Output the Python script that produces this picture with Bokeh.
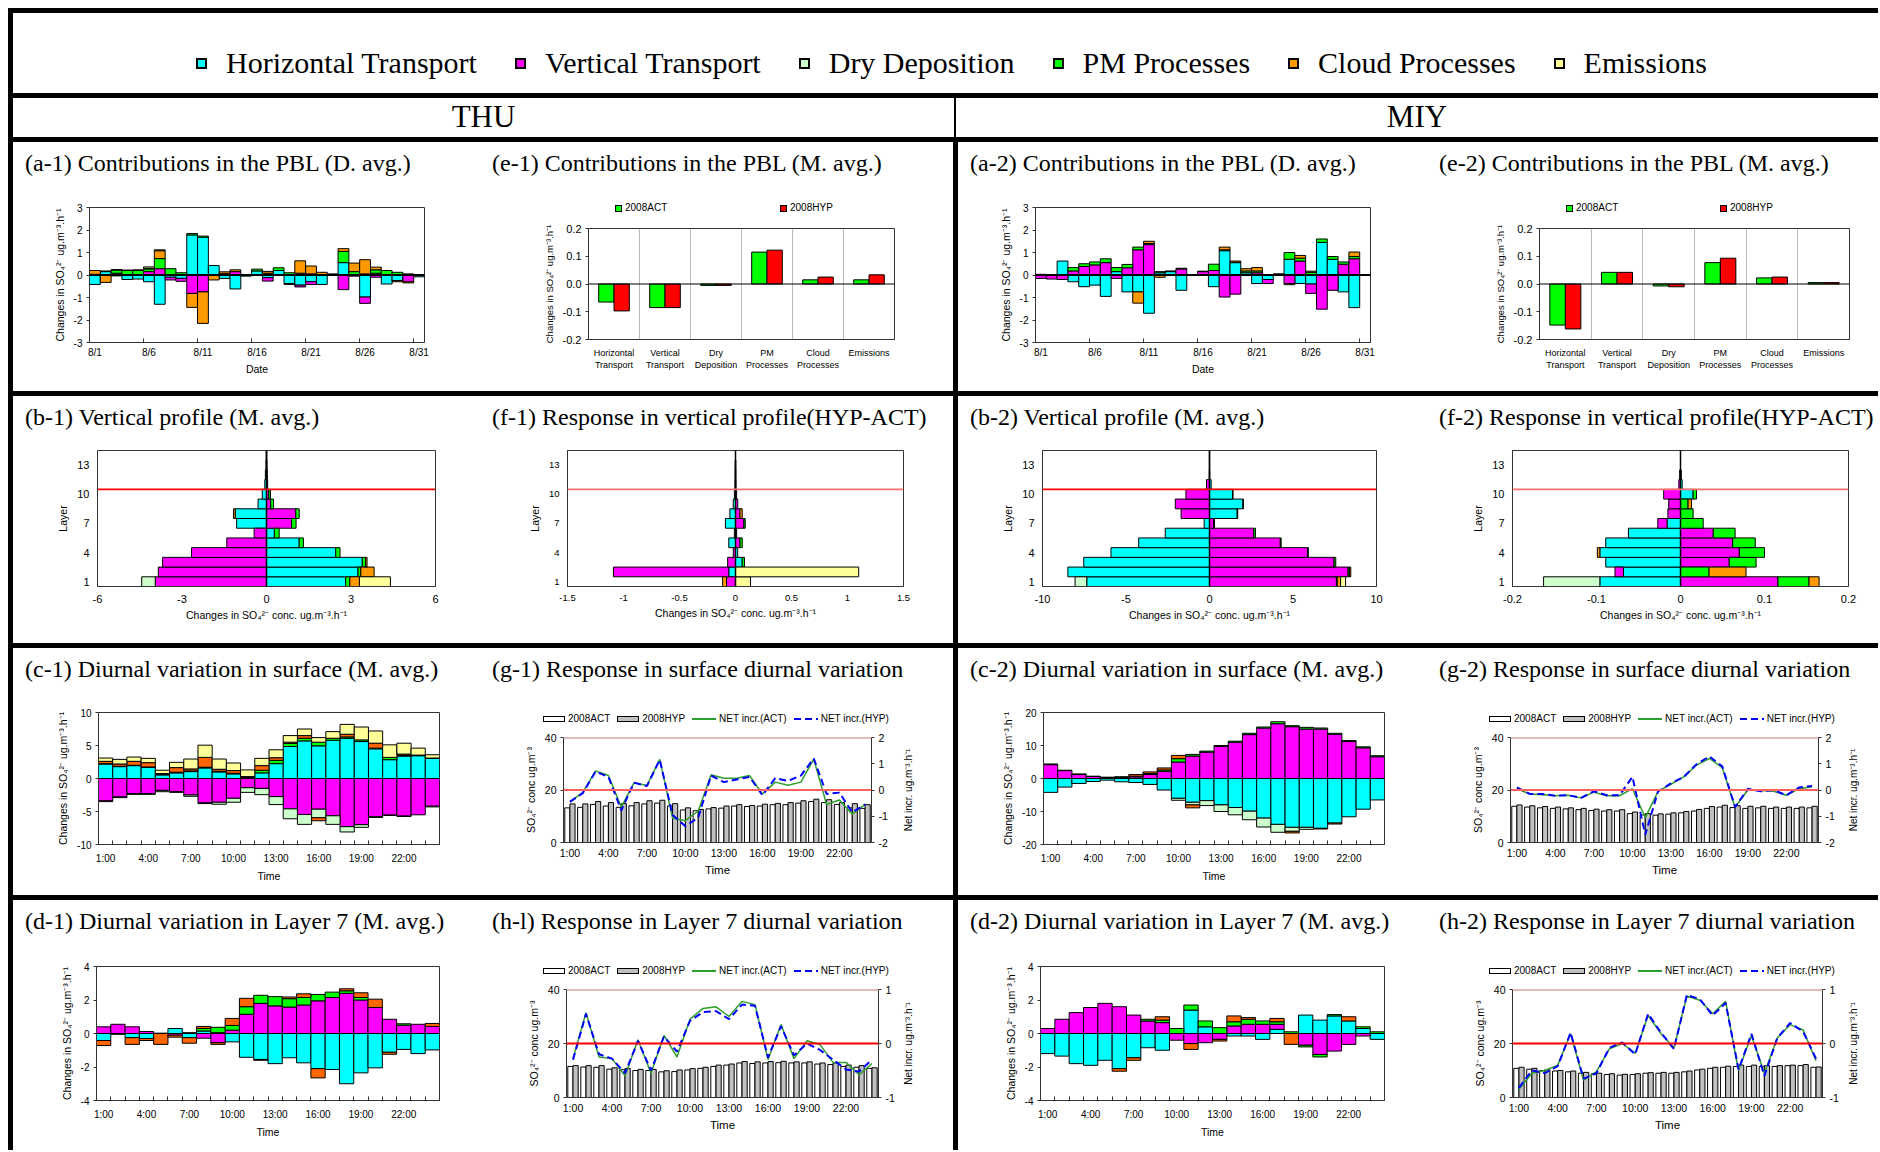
from bokeh.plotting import figure
from bokeh.models import Range1d, LinearAxis, FixedTicker, Span, Div
from bokeh.layouts import row, column
from bokeh.embed import file_html
from bokeh.resources import INLINE

# ------------------------------------------------------------------ data
COMPONENTS = ["Horizontal Transport", "Vertical Transport", "Dry Deposition",
              "PM Processes", "Cloud Processes", "Emissions"]
CATS = ["Horizontal\nTransport", "Vertical\nTransport", "Dry\nDeposition",
        "PM\nProcesses", "Cloud\nProcesses", "Emissions"]
SCEN = ["2008ACT", "2008HYP"]
NET_NAMES = ["NET incr.(ACT)", "NET incr.(HYP)"]
DATES = ["8/1", "8/2", "8/3", "8/4", "8/5", "8/6", "8/7", "8/8", "8/9", "8/10",
         "8/11", "8/12", "8/13", "8/14", "8/15", "8/16", "8/17", "8/18", "8/19", "8/20",
         "8/21", "8/22", "8/23", "8/24", "8/25", "8/26", "8/27", "8/28", "8/29", "8/30", "8/31"]
HOURS = ["1:00", "2:00", "3:00", "4:00", "5:00", "6:00", "7:00", "8:00", "9:00", "10:00",
         "11:00", "12:00", "13:00", "14:00", "15:00", "16:00", "17:00", "18:00", "19:00",
         "20:00", "21:00", "22:00", "23:00", "24:00"]
LAYERS = [1, 2, 3, 4, 5, 6, 7, 8, 9, 10, 11, 12, 13, 14]

# (a-1) THU daily PBL contributions
A1_HT = [-0.42, 0.15, 0.08, -0.20, -0.18, -0.30, -1.30, -0.10, -0.15, 1.78, 1.68, 0.42, -0.15, -0.62, -0.05, 0.18,
         -0.12, 0.20, -0.38, -0.45, -0.30, -0.42, 0.00, 0.55, 0.00, -0.98, 0.08, -0.40, -0.25, 0.00, -0.08]
A1_VT = [0.00, 0.00, -0.04, 0.00, 0.00, 0.15, 0.28, -0.12, -0.13, -0.82, -0.75, 0.00, 0.06, 0.15, 0.00, -0.02,
         -0.15, -0.02, 0.00, -0.08, -0.12, 0.00, 0.00, -0.65, -0.05, -0.28, -0.10, 0.00, 0.00, -0.30, 0.00]
A1_DD = [0.00, 0.00, 0.00, 0.00, 0.00, 0.00, 0.00, 0.00, 0.00, 0.00, 0.00, 0.00, 0.00, 0.00, 0.00, 0.00,
         0.00, 0.00, 0.00, 0.00, 0.00, 0.00, 0.00, 0.00, 0.00, 0.00, 0.00, 0.00, 0.00, 0.00, 0.00]
A1_PM = [0.03, 0.03, 0.14, 0.20, 0.20, 0.12, 0.45, 0.28, 0.10, 0.06, 0.05, 0.00, 0.00, 0.00, 0.02, 0.08,
         0.08, 0.12, 0.10, 0.08, 0.05, 0.00, -0.02, 0.50, 0.15, 0.05, 0.15, 0.20, 0.12, 0.05, 0.00]
A1_CP = [0.17, -0.33, 0.02, 0.02, 0.03, 0.03, 0.35, 0.00, 0.00, -0.62, -1.40, -0.22, 0.08, 0.08, 0.00, 0.00,
         0.08, 0.00, -0.04, 0.55, 0.35, 0.12, 0.05, 0.12, 0.38, 0.63, 0.12, 0.00, -0.05, -0.05, 0.00]
A1_EM = [0.00, 0.00, 0.00, 0.00, 0.00, 0.06, 0.04, 0.00, 0.00, 0.00, 0.00, 0.00, 0.00, 0.00, 0.00, 0.00,
         0.00, 0.00, 0.00, 0.00, 0.00, 0.00, 0.00, 0.00, 0.00, 0.00, 0.00, 0.00, 0.00, 0.00, 0.00]

# (a-2) MIY daily PBL contributions
A2_HT = [0.00, 0.00, 0.62, -0.30, -0.52, -0.45, -0.95, 0.15, -0.75, -0.75, -1.70, 0.10, 0.15, -0.68, 0.00, 0.00,
         -0.52, 1.08, 0.55, 0.10, -0.38, -0.20, 0.03, 0.70, -0.38, -0.40, 1.45, 0.70, -0.75, -1.45, 0.02]
A2_VT = [-0.15, -0.18, -0.20, 0.18, 0.38, 0.45, 0.55, -0.15, 0.32, 1.12, 1.35, 0.00, 0.00, 0.27, 0.00, 0.15,
         0.20, -0.98, -0.85, 0.00, 0.10, -0.18, 0.00, -0.38, 0.62, -0.42, -1.52, -0.68, 0.48, 0.72, 0.00]
A2_DD = [0.00, 0.00, 0.00, 0.00, 0.00, 0.00, 0.00, 0.00, 0.00, 0.00, 0.00, 0.00, 0.00, 0.00, 0.00, 0.00,
         0.00, 0.00, 0.00, 0.00, 0.00, 0.00, 0.00, 0.00, 0.00, 0.00, 0.00, 0.00, 0.00, 0.00, 0.00]
A2_PM = [0.03, 0.00, 0.00, 0.15, 0.12, 0.13, 0.17, 0.18, 0.15, 0.12, 0.05, 0.05, 0.03, 0.03, 0.02, 0.02,
         0.28, 0.04, 0.02, 0.08, 0.08, 0.02, 0.02, 0.30, 0.13, 0.12, 0.15, 0.12, 0.10, 0.10, 0.00]
A2_CP = [0.00, 0.00, 0.00, 0.00, 0.00, 0.00, 0.00, 0.00, 0.00, -0.50, 0.10, -0.10, 0.00, 0.00, 0.00, 0.00,
         0.00, 0.12, 0.05, 0.10, 0.15, 0.00, 0.00, -0.05, 0.12, 0.05, 0.00, 0.00, 0.00, 0.20, 0.00]
A2_EM = [0.00, 0.00, 0.00, 0.00, 0.00, 0.00, 0.00, 0.00, 0.00, 0.00, 0.00, 0.00, 0.00, 0.00, 0.00, 0.00,
         0.00, 0.00, 0.00, 0.00, 0.00, 0.00, 0.00, 0.00, 0.00, 0.00, 0.00, 0.00, 0.00, 0.00, 0.00]

# (e-1), (e-2) monthly PBL contributions
E1_ACT = [-0.065, -0.085, -0.005, 0.115, 0.015, 0.015]
E1_HYP = [-0.097, -0.085, -0.005, 0.122, 0.025, 0.033]
E2_ACT = [-0.148, 0.042, -0.007, 0.077, 0.022, 0.005]
E2_HYP = [-0.162, 0.042, -0.010, 0.093, 0.025, 0.005]

# (b-1) THU vertical profile
B1_HT = [2.81, 3.25, 3.40, 2.46, 1.16, 0.28, -1.06, -1.11, -0.30, -0.15, -0.06, -0.04, -0.02, -0.01]
B1_VT = [-3.95, -3.84, -3.69, -2.66, -1.41, -0.44, 0.89, 1.04, 0.15, 0.08, 0.04, 0.03, 0.02, 0.01]
B1_DD = [-0.48, 0.00, 0.00, 0.00, 0.00, 0.00, 0.00, 0.00, 0.00, 0.00, 0.00, 0.00, 0.00, 0.00]
B1_PM = [0.15, 0.10, 0.12, 0.15, 0.15, 0.17, 0.16, 0.12, 0.10, 0.06, 0.00, 0.00, 0.00, 0.00]
B1_CP = [0.34, 0.47, 0.05, 0.00, 0.00, 0.00, 0.00, -0.06, 0.00, 0.00, 0.00, 0.00, 0.00, 0.00]
B1_EM = [1.10, 0.00, 0.00, 0.00, 0.00, 0.00, 0.00, 0.00, 0.00, 0.00, 0.00, 0.00, 0.00, 0.00]

# (f-1) THU vertical profile response
F1_HT = [0.00, -0.06, 0.06, 0.02, -0.06, -0.01, -0.09, -0.05, -0.02, -0.01, -0.005, -0.004, -0.003, 0.00]
F1_VT = [-0.08, -1.03, -0.07, -0.02, 0.04, 0.01, 0.075, 0.04, 0.02, 0.01, 0.005, 0.004, 0.003, 0.00]
F1_DD = [0.00, 0.00, 0.00, 0.00, 0.00, 0.00, 0.00, 0.00, 0.00, 0.00, 0.00, 0.00, 0.00, 0.00]
F1_PM = [0.00, 0.00, 0.02, 0.00, 0.02, 0.00, 0.012, 0.00, 0.00, 0.00, 0.00, 0.00, 0.00, 0.00]
F1_CP = [-0.035, 0.00, 0.00, 0.00, 0.00, 0.00, 0.00, 0.02, 0.00, 0.00, 0.00, 0.00, 0.00, 0.00]
F1_EM = [0.134, 1.10, 0.00, 0.00, 0.00, 0.00, 0.00, 0.00, 0.00, 0.00, 0.00, 0.00, 0.00, 0.00]

# (b-2) MIY vertical profile
B2_HT = [-7.35, -8.48, -7.53, -5.90, -4.24, -2.65, -0.32, 1.66, 2.00, 1.38, 0.10, 0.02, 0.01, 0.01]
B2_VT = [7.60, 8.30, 7.46, 5.87, 4.24, 2.65, 0.25, -1.70, -2.05, -1.41, -0.18, -0.02, -0.01, -0.01]
B2_DD = [-0.70, 0.00, 0.00, 0.00, 0.00, 0.00, 0.00, 0.00, 0.00, 0.00, 0.00, 0.00, 0.00, 0.00]
B2_PM = [0.05, 0.08, 0.10, 0.05, 0.05, 0.10, 0.05, 0.03, 0.03, 0.03, 0.00, 0.00, 0.00, 0.00]
B2_CP = [0.20, 0.08, 0.00, 0.00, 0.00, 0.00, 0.00, 0.00, 0.00, 0.00, 0.00, 0.00, 0.00, 0.00]
B2_EM = [0.30, 0.00, 0.00, 0.00, 0.00, 0.00, 0.00, 0.00, 0.00, 0.00, 0.00, 0.00, 0.00, 0.00]

# (f-2) MIY vertical profile response
F2_HT = [-0.096, -0.068, -0.089, -0.096, -0.089, -0.062, -0.016, 0.00, 0.00, 0.015, 0.002, 0.001, 0.00, 0.00]
F2_VT = [0.116, -0.010, 0.058, 0.070, 0.062, 0.039, -0.011, -0.015, -0.014, -0.020, -0.002, -0.001, 0.00, 0.00]
F2_DD = [-0.067, 0.00, 0.00, 0.00, 0.00, 0.00, 0.00, 0.00, 0.00, 0.00, 0.00, 0.00, 0.00, 0.00]
F2_PM = [0.037, 0.034, 0.032, 0.030, 0.027, 0.026, 0.027, 0.015, 0.009, 0.004, 0.00, 0.00, 0.00, 0.00]
F2_CP = [0.012, 0.044, 0.00, -0.003, 0.00, 0.00, 0.00, 0.00, 0.004, 0.00, 0.00, 0.00, 0.00, 0.00]
F2_EM = [0.00, 0.00, 0.00, 0.00, 0.00, 0.00, 0.00, 0.00, 0.00, 0.00, 0.00, 0.00, 0.00, 0.00]

# (c-1) THU surface diurnal
C1_HT = [2.20, 1.80, 1.95, 1.70, 0.55, 0.85, 1.05, 1.60, 1.00, 0.70, 0.15, 0.85,
         2.25, 4.85, 5.70, 4.95, 5.80, 6.10, 5.60, 4.50, 2.85, 3.40, 3.45, 3.05]
C1_VT = [-3.40, -2.80, -2.30, -2.30, -1.80, -2.00, -2.50, -3.70, -3.60, -3.00, -1.40, -1.50,
         -2.75, -4.60, -5.45, -4.65, -5.65, -7.30, -7.00, -5.80, -5.55, -5.70, -5.50, -4.20]
C1_DD = [-0.10, -0.10, -0.10, -0.10, -0.20, -0.10, -0.20, -0.10, -0.30, -0.60, -0.70, -0.95,
         -1.20, -1.50, -1.50, -1.30, -1.30, -0.80, -0.40, -0.10, -0.05, -0.05, 0.00, -0.10]
C1_PM = [0.05, 0.05, 0.05, 0.05, 0.05, 0.10, 0.10, 0.10, 0.10, 0.10, 0.15, 0.40,
         0.50, 0.45, 0.40, 0.55, 0.30, 0.20, 0.25, 0.10, 0.35, 0.10, 0.10, 0.05]
C1_CP = [0.35, 0.35, 0.60, 0.65, 0.15, 0.70, 0.30, 1.50, 0.30, 0.40, 0.00, 0.70,
         0.40, 0.20, 0.40, -0.45, 0.00, 0.40, 0.00, 0.75, 0.00, 0.20, 0.00, 0.00]
C1_EM = [0.50, 0.70, 0.65, 0.65, 0.50, 0.80, 1.50, 1.85, 1.55, 1.15, 1.00, 1.10,
         1.20, 1.00, 1.00, 0.70, 1.00, 1.50, 1.95, 1.85, 1.90, 1.65, 1.05, 0.50]

# (c-2) MIY surface diurnal
C2_HT = [-4.2, -2.6, -1.5, -0.9, -0.5, -1.0, -1.2, -1.8, -3.5, -6.0, -7.2, -6.7,
         -8.0, -8.8, -9.9, -12.0, -13.9, -14.8, -14.8, -15.1, -13.5, -11.6, -9.3, -6.5]
C2_VT = [4.2, 2.4, 1.2, 0.6, 0.3, 0.4, 0.5, 1.2, 2.2, 5.0, 6.8, 8.0,
         9.7, 11.0, 13.3, 15.3, 16.6, 15.7, 15.0, 15.0, 13.4, 11.2, 9.3, 6.6]
C2_DD = [0.0, 0.0, 0.0, 0.0, 0.0, 0.0, 0.0, 0.0, 0.0, -0.6, -0.8, -1.5,
         -2.0, -2.2, -2.6, -2.7, -2.4, -1.2, -0.6, 0.0, 0.0, 0.0, 0.0, 0.0]
C2_PM = [0.2, 0.1, 0.2, 0.1, 0.1, 0.1, 0.2, 0.3, 0.4, 1.0, 0.5, 0.3,
         0.3, 0.3, 0.4, 0.3, 0.6, 0.3, 0.5, 0.3, 0.3, 0.3, 0.3, 0.3]
C2_CP = [0.0, 0.0, 0.0, 0.0, 0.0, 0.0, 0.5, 0.5, 0.6, 1.0, -0.9, 0.0,
         0.0, 0.0, 0.0, 0.0, 0.0, -0.5, 0.0, -0.2, -0.3, 0.0, 0.0, 0.0]
C2_EM = [0.0, 0.0, 0.0, 0.0, 0.0, 0.0, 0.0, 0.0, 0.0, 0.0, 0.0, 0.0,
         0.0, 0.0, 0.0, 0.0, 0.0, 0.0, 0.0, 0.0, 0.0, 0.0, 0.0, 0.0]

# (d-1) THU layer-7 diurnal
D1_HT = [-0.42, 0.00, -0.25, -0.30, 0.00, 0.30, -0.25, 0.15, 0.05, -0.50, -1.42, -1.55,
         -1.80, -1.45, -1.75, -2.10, -2.15, -3.00, -2.35, -2.05, -1.12, -0.95, -1.20, -0.98]
D1_VT = [0.40, 0.55, 0.40, 0.12, 0.02, -0.10, 0.05, -0.28, -0.55, 0.20, 1.15, 1.80,
         1.65, 1.58, 1.70, 1.95, 2.15, 2.40, 2.00, 1.55, 0.85, 0.50, 0.55, 0.42]
D1_DD = [0.00, 0.00, 0.00, 0.00, 0.00, 0.00, 0.00, 0.00, 0.00, 0.00, 0.00, 0.00,
         0.00, 0.00, 0.00, 0.00, 0.00, 0.00, 0.00, 0.00, 0.00, 0.00, 0.00, 0.00]
D1_PM = [0.00, -0.05, 0.00, 0.00, 0.00, 0.00, 0.00, 0.15, 0.32, 0.28, 0.45, 0.48,
         0.55, 0.50, 0.45, 0.38, 0.32, 0.15, 0.15, 0.00, 0.00, 0.08, 0.00, 0.00]
D1_CP = [-0.30, 0.00, -0.40, -0.12, -0.65, -0.12, -0.33, 0.12, -0.10, 0.42, 0.50, -0.05,
         0.00, 0.10, 0.22, -0.55, 0.00, 0.12, 0.28, 0.50, -0.12, 0.00, 0.00, 0.18]
D1_EM = [0.00, 0.00, 0.00, 0.00, 0.00, 0.00, 0.00, 0.00, 0.00, 0.00, 0.00, 0.00,
         0.00, 0.00, 0.00, 0.00, 0.00, 0.00, 0.00, 0.00, 0.00, 0.00, 0.00, 0.00]

# (d-2) MIY layer-7 diurnal
D2_HT = [-1.20, -1.35, -1.80, -1.90, -1.60, -2.10, -1.45, -0.85, -1.00, 0.00, 1.40, 0.40,
         0.00, -0.15, -0.15, -0.35, 0.25, 0.00, 1.10, 0.80, 1.05, 0.75, 0.30, -0.35]
D2_VT = [0.30, 0.85, 1.25, 1.55, 1.80, 1.60, 1.10, 0.75, 0.65, -0.40, -0.60, -0.55,
         -0.35, 0.45, 0.55, 0.55, 0.30, 0.00, -0.70, -1.25, -1.05, -0.65, -0.15, 0.00]
D2_DD = [0.00, 0.00, 0.00, 0.00, 0.00, 0.00, 0.00, 0.00, 0.00, 0.00, 0.00, 0.00,
         0.00, 0.00, 0.00, 0.00, 0.00, 0.00, 0.00, 0.00, 0.00, 0.00, 0.00, 0.00]
D2_PM = [0.00, 0.00, 0.00, 0.00, 0.00, 0.00, 0.00, 0.10, 0.15, 0.30, 0.30, 0.35,
         0.35, 0.25, 0.30, 0.20, 0.15, 0.10, -0.10, -0.15, 0.08, 0.00, 0.10, 0.10]
D2_CP = [0.00, 0.00, 0.00, 0.00, 0.00, -0.15, -0.15, 0.00, 0.20, 0.00, -0.35, 0.00,
         -0.10, 0.35, 0.10, 0.00, 0.20, -0.65, 0.00, 0.00, 0.00, 0.25, 0.00, 0.00]
D2_EM = [0.00, 0.00, 0.00, 0.00, 0.00, 0.00, 0.00, 0.00, 0.00, 0.00, 0.00, 0.00,
         0.00, 0.00, 0.00, 0.00, 0.00, 0.00, 0.00, 0.00, 0.00, 0.00, 0.00, 0.00]

# (g-1) THU surface response
G1_ACT = [13.2, 13.4, 14.5, 13.9, 13.4, 14.0, 14.7, 15.0, 13.9, 12.4, 12.1, 12.8,
          13.1, 13.9, 13.7, 13.9, 14.4, 14.4, 15.0, 15.6, 15.2, 14.5, 13.2, 13.0]
G1_HYP = [14.7, 14.7, 15.6, 15.2, 14.8, 15.2, 15.9, 16.1, 14.8, 13.2, 12.6, 13.3,
          13.9, 14.4, 14.1, 14.6, 14.9, 15.2, 15.9, 16.5, 16.3, 15.2, 14.8, 14.4]
G1_NETA = [-0.44, -0.10, 0.73, 0.55, -0.65, 0.28, 0.17, 1.17, -1.08, -1.17, -0.80, 0.58,
           0.45, 0.45, 0.55, -0.15, 0.30, 0.18, 0.30, 1.18, -0.55, -0.38, -0.92, -0.55]
G1_NETH = [-0.45, -0.12, 0.70, 0.50, -0.78, 0.28, 0.15, 1.15, -0.95, -1.38, -1.05, 0.55,
           0.30, 0.40, 0.50, -0.20, 0.45, 0.35, 0.55, 1.20, -0.15, -0.10, -0.85, -0.55]

# (h-1) THU layer-7 response
H1_ACT = [11.5, 11.3, 11.2, 10.5, 10.3, 10.0, 10.0, 9.5, 9.6, 10.2, 10.8, 11.5,
          12.0, 12.8, 12.6, 12.8, 12.9, 12.8, 12.8, 12.4, 12.2, 11.5, 11.2, 10.8]
H1_HYP = [11.8, 11.8, 11.8, 11.0, 10.8, 10.4, 10.4, 9.9, 10.2, 10.7, 11.2, 12.0,
          12.4, 13.3, 13.2, 13.3, 13.4, 13.2, 13.2, 12.8, 12.8, 12.0, 11.8, 11.0]
H1_NETA = [-0.28, 0.57, -0.25, -0.28, -0.60, 0.07, -0.55, 0.15, -0.25, 0.45, 0.65, 0.68,
           0.50, 0.78, 0.72, -0.30, 0.35, -0.28, 0.05, -0.02, -0.35, -0.35, -0.58, -0.37]
H1_NETH = [-0.30, 0.55, -0.20, -0.28, -0.55, 0.05, -0.50, 0.13, -0.15, 0.42, 0.58, 0.60,
           0.45, 0.72, 0.70, -0.26, 0.32, -0.22, 0.00, -0.12, -0.30, -0.48, -0.52, -0.30]

# (g-2) MIY surface response
G2_ACT = [13.8, 13.5, 13.2, 13.0, 12.8, 12.5, 12.2, 12.0, 12.0, 11.0, 10.5, 10.4,
          10.8, 11.3, 12.0, 13.0, 13.5, 13.3, 13.0, 13.2, 13.0, 13.0, 13.0, 13.2]
G2_HYP = [14.3, 14.0, 13.7, 13.5, 13.2, 13.0, 12.7, 12.5, 12.5, 11.6, 11.0, 10.9,
          11.3, 11.8, 12.6, 13.7, 14.2, 14.0, 13.8, 13.8, 13.5, 13.5, 13.5, 13.8]
G2_NETA = [0.05, -0.15, -0.18, -0.22, -0.20, -0.30, -0.08, -0.22, -0.22, 0.05, -1.05, -0.05,
           0.22, 0.50, 0.95, 1.20, 0.85, -0.65, 0.00, -0.02, -0.05, -0.20, 0.05, 0.12]
G2_NETH = [0.10, -0.15, -0.15, -0.22, -0.20, -0.30, -0.05, -0.20, -0.20, 0.50, -1.70, -0.05,
           0.25, 0.50, 0.98, 1.28, 0.90, -0.65, 0.05, -0.05, 0.00, -0.20, 0.10, 0.15]

# (h-2) MIY layer-7 response
H2_ACT = [10.8, 10.5, 10.0, 9.8, 9.5, 9.0, 8.8, 8.5, 8.3, 8.5, 9.0, 9.0,
          9.0, 9.5, 10.2, 10.8, 11.2, 11.5, 11.5, 11.5, 11.5, 11.8, 11.8, 11.2]
H2_HYP = [11.2, 10.8, 10.3, 10.0, 9.8, 9.3, 9.0, 8.8, 8.6, 8.8, 9.2, 9.3,
          9.3, 9.8, 10.5, 11.2, 11.6, 12.0, 12.0, 11.8, 11.8, 12.0, 12.2, 11.3]
H2_NETA = [-0.85, -0.55, -0.50, -0.40, 0.18, -0.68, -0.52, -0.10, 0.00, -0.18, 0.52, 0.18,
           -0.08, 0.88, 0.80, 0.55, 0.78, -0.50, 0.15, -0.55, 0.10, 0.35, 0.25, -0.32]
H2_NETH = [-0.82, -0.50, -0.55, -0.42, 0.20, -0.65, -0.55, -0.08, 0.02, -0.20, 0.55, 0.20,
           -0.10, 0.90, 0.82, 0.52, 0.75, -0.48, 0.18, -0.60, 0.10, 0.38, 0.22, -0.28]

# ------------------------------------------------------------------ style
SANS = "Liberation Sans"
SERIF = "Liberation Serif"
C_HT, C_VT, C_DD, C_PM, C_CP, C_EM = "#00FFFF", "#FF00FF", "#CCFFCC", "#00FF00", "#FF9900", "#FFFF99"
C_CP_DARK = "#FF6600"
C_ACT_BAR, C_HYP_BAR = "#00FF00", "#FF0000"
C_CONC_ACT, C_CONC_HYP = "white", "#C0C0C0"
C_NET_ACT, C_NET_HYP = "#2E9E2E", "#0000FF"
FRAME = "#333333"
YLAB = "Changes in SO\u2084\u00b2\u207b ug.m\u207b\u00b3.h\u207b\u00b9"
XLAB_B = "Changes in SO\u2084\u00b2\u207b conc. ug.m\u207b\u00b3.h\u207b\u00b9"
CONC_LAB = "SO\u2084\u00b2\u207b conc ug.m\u207b\u00b3"
NET_LAB = "Net incr. ug.m\u207b\u00b3.h\u207b\u00b9"


def make_fig(w, h, borders, xr, yr):
    l, r, t, b = borders
    p = figure(width=w, height=h, x_range=xr, y_range=yr, output_backend="svg",
               toolbar_location=None, min_border_left=l, min_border_right=r,
               min_border_top=t, min_border_bottom=b)
    p.outline_line_color = FRAME
    p.outline_line_width = 1
    p.xgrid.visible = False
    p.ygrid.visible = False
    p.background_fill_color = "white"
    p.border_fill_color = "white"
    return p


def style_axes(p, tick_size, label_size):
    for ax in p.axis:
        ax.major_label_text_font = SANS
        ax.major_label_text_font_size = tick_size
        ax.major_label_text_color = "black"
        ax.axis_label_text_font = SANS
        ax.axis_label_text_font_size = label_size
        ax.axis_label_text_font_style = "normal"
        ax.axis_label_text_color = "black"
        ax.axis_line_color = FRAME
        ax.major_tick_line_color = FRAME
        ax.minor_tick_line_color = None
        ax.major_tick_in = 0
        ax.major_tick_out = 3
        ax.axis_label_standoff = 5
        ax.major_label_standoff = 4


def stacked(p, pos_list, series, colors, size, horizontal=False):
    n = len(pos_list)
    up = [0.0] * n
    dn = [0.0] * n
    for vals, col in zip(series, colors):
        if len(vals) != n:
            raise ValueError("series length mismatch")
        cc, lo, hi = [], [], []
        for i, v in enumerate(vals):
            if v == 0:
                continue
            if v > 0:
                a = up[i]; up[i] += v; b = up[i]
            else:
                a = dn[i]; dn[i] += v; b = dn[i]
            cc.append(pos_list[i]); lo.append(a); hi.append(b)
        if not cc:
            continue
        if horizontal:
            p.hbar(y=cc, height=size, left=lo, right=hi, fill_color=col, line_color="black", line_width=1)
        else:
            p.vbar(x=cc, width=size, bottom=lo, top=hi, fill_color=col, line_color="black", line_width=1)


def panel_daily(series, w, h, borders):
    p = make_fig(w, h, borders, Range1d(0, len(DATES)), Range1d(-3, 3))
    xs = [i + 0.5 for i in range(len(DATES))]
    stacked(p, xs, series, [C_HT, C_VT, C_DD, C_PM, C_CP, C_EM], 1.0)
    p.add_layout(Span(location=0, dimension="width", line_color="black", line_width=2))
    idx = list(range(0, len(DATES), 5))
    p.xaxis.ticker = FixedTicker(ticks=[xs[i] for i in idx], minor_ticks=[float(i) for i in idx])
    p.xaxis.major_label_overrides = {xs[i]: DATES[i] for i in idx}
    p.yaxis.ticker = FixedTicker(ticks=[-3, -2, -1, 0, 1, 2, 3])
    p.yaxis.major_label_overrides = {-3: "-3", -2: "-2", -1: "-1"}
    p.xaxis.axis_label = "Date"
    p.yaxis.axis_label = YLAB
    style_axes(p, "10px", "10.5px")
    p.xaxis.major_tick_out = 0
    p.xaxis.minor_tick_line_color = FRAME
    p.xaxis.minor_tick_in = 4
    p.xaxis.minor_tick_out = 0
    p.xaxis.axis_label_standoff = 2
    return p


def panel_month(act, hyp, w, h, borders):
    p = make_fig(w, h, borders, Range1d(0, len(CATS)), Range1d(-0.2, 0.2))
    x1 = [i + 0.35 for i in range(len(CATS))]
    x2 = [i + 0.65 for i in range(len(CATS))]
    p.vbar(x=x1, width=0.3, top=act, bottom=0, fill_color=C_ACT_BAR, line_color="black")
    p.vbar(x=x2, width=0.3, top=hyp, bottom=0, fill_color=C_HYP_BAR, line_color="black")
    p.xgrid.visible = True
    p.xgrid.ticker = FixedTicker(ticks=list(range(1, len(CATS))))
    p.xgrid.grid_line_color = "#BBBBBB"
    p.add_layout(Span(location=0, dimension="width", line_color="black", line_width=1))
    p.xaxis.ticker = FixedTicker(ticks=[i + 0.5 for i in range(len(CATS))])
    p.xaxis.major_label_overrides = {i + 0.5: CATS[i] for i in range(len(CATS))}
    p.yaxis.ticker = FixedTicker(ticks=[-0.2, -0.1, 0, 0.1, 0.2])
    p.yaxis.major_label_overrides = {-0.2: "-0.2", -0.1: "-0.1", 0: "0.0", 0.1: "0.1", 0.2: "0.2"}
    p.yaxis.axis_label = YLAB
    style_axes(p, "11px", "9.5px")
    p.xaxis.major_label_text_font_size = "9px"
    p.xaxis.major_tick_out = 0
    p.xaxis.major_label_standoff = 8
    return p


def panel_profile(series, xmax, xticks, overrides, w, h, borders, red, tick_size):
    p = make_fig(w, h, borders, Range1d(-xmax, xmax), Range1d(0.5, 14.5))
    stacked(p, LAYERS, series, [C_HT, C_VT, C_DD, C_PM, C_CP, C_EM], 1.0, horizontal=True)
    p.add_layout(Span(location=0, dimension="height", line_color="black", line_width=1.5))
    p.add_layout(Span(location=10.5, dimension="width", line_color=red, line_width=1.6))
    p.xaxis.ticker = FixedTicker(ticks=xticks)
    p.xaxis.major_label_overrides = overrides
    p.yaxis.ticker = FixedTicker(ticks=[1, 4, 7, 10, 13])
    p.xaxis.axis_label = XLAB_B
    p.yaxis.axis_label = "Layer"
    style_axes(p, tick_size, "10.5px")
    p.xaxis.major_tick_out = 0
    p.yaxis.major_tick_out = 0
    p.xaxis.major_label_standoff = 8
    p.yaxis.major_label_standoff = 8
    p.xaxis.axis_label_standoff = 3
    return p


def panel_hourly(series, ymax, yticks, overrides, w, h, borders):
    p = make_fig(w, h, borders, Range1d(0, len(HOURS)), Range1d(-ymax, ymax))
    xs = [i + 0.5 for i in range(len(HOURS))]
    stacked(p, xs, series, [C_HT, C_VT, C_DD, C_PM, C_CP_DARK, C_EM], 1.0)
    p.add_layout(Span(location=0, dimension="width", line_color="black", line_width=1))
    idx = list(range(0, len(HOURS), 3))
    p.xaxis.ticker = FixedTicker(ticks=[xs[i] for i in idx],
                                 minor_ticks=[float(i) for i in range(len(HOURS) + 1)])
    p.xaxis.major_label_overrides = {xs[i]: HOURS[i] for i in idx}
    p.yaxis.ticker = FixedTicker(ticks=yticks)
    p.yaxis.major_label_overrides = overrides
    p.xaxis.axis_label = "Time"
    p.yaxis.axis_label = YLAB
    style_axes(p, "10px", "10.5px")
    p.xaxis.major_tick_out = 0
    p.xaxis.minor_tick_line_color = FRAME
    p.xaxis.minor_tick_in = 4
    p.xaxis.minor_tick_out = 0
    p.xaxis.major_label_standoff = 8
    p.xaxis.axis_label_standoff = 3
    return p


def panel_response(act, hyp, neta, neth, net_max, w, h, borders, mid_color, tick_size):
    p = make_fig(w, h, borders, Range1d(0, len(HOURS)), Range1d(0, 40))
    p.outline_line_color = None
    p.extra_y_ranges = {"net": Range1d(-net_max, net_max)}
    xs = [i + 0.5 for i in range(len(HOURS))]
    xa = [i + 0.3 for i in range(len(HOURS))]
    xh = [i + 0.7 for i in range(len(HOURS))]
    p.vbar(x=xa, width=0.4, top=act, bottom=0, fill_color=C_CONC_ACT, line_color="black")
    p.vbar(x=xh, width=0.4, top=hyp, bottom=0, fill_color=C_CONC_HYP, line_color="black")
    p.add_layout(Span(location=20, dimension="width", line_color=mid_color, line_width=2))
    p.add_layout(Span(location=40, dimension="width", line_color="#C87878", line_width=2))
    p.line(xs, neta, y_range_name="net", line_color=C_NET_ACT, line_width=1.5)
    p.line(xs, neth, y_range_name="net", line_color=C_NET_HYP, line_width=2, line_dash="7 4")
    idx = list(range(0, len(HOURS), 3))
    p.xaxis.ticker = FixedTicker(ticks=[xs[i] for i in idx])
    p.xaxis.major_label_overrides = {xs[i]: HOURS[i] for i in idx}
    p.yaxis.ticker = FixedTicker(ticks=[0, 20, 40])
    p.xaxis.axis_label = "Time"
    p.yaxis.axis_label = CONC_LAB
    nt = list(range(-net_max, net_max + 1))
    rax = LinearAxis(y_range_name="net", ticker=FixedTicker(ticks=nt),
                     major_label_overrides={v: str(v) for v in nt})
    p.add_layout(rax, "right")
    style_axes(p, tick_size, "10.5px")
    p.xaxis.major_tick_out = 0
    p.xaxis.axis_label_text_font_size = "11.5px"
    p.xaxis.axis_label_standoff = 2
    return p


def net_label_fig(w, h, borders):
    # narrow companion plot: its left axis carries the secondary-axis title,
    # so that the title reads bottom-to-top like in the original
    l, t, b = borders
    p = figure(width=w, height=h, x_range=Range1d(0, 1), y_range=Range1d(0, 1),
               output_backend="svg", toolbar_location=None, x_axis_location=None,
               min_border_left=l, min_border_right=w - l - 1, min_border_top=t, min_border_bottom=b)
    p.outline_line_color = None
    p.grid.visible = False
    p.background_fill_color = "white"
    p.border_fill_color = "white"
    p.yaxis.ticker = FixedTicker(ticks=[])
    p.yaxis.axis_line_color = None
    p.yaxis.major_tick_line_color = None
    p.yaxis.minor_tick_line_color = None
    p.yaxis.axis_label = NET_LAB
    p.yaxis.axis_label_text_font = SANS
    p.yaxis.axis_label_text_font_size = "10px"
    p.yaxis.axis_label_text_font_style = "normal"
    p.yaxis.axis_label_text_color = "black"
    p.yaxis.axis_label_standoff = 5
    return p


# ------------------------------------------------------------------ html helpers
LEG_FONT = "font-family:'Liberation Sans';font-size:10px;color:black;white-space:nowrap;"


def swatch(css):
    return "<span style=\"display:inline-block;margin-right:3px;" + css + "\"></span>"


def legend_month(x_act, x_hyp, top):
    out = ""
    for x, name, col in [(x_act, SCEN[0], C_ACT_BAR), (x_hyp, SCEN[1], C_HYP_BAR)]:
        out += ("<div style=\"position:absolute;left:" + str(x) + "px;top:" + str(top) + "px;"
                "display:flex;align-items:center;" + LEG_FONT + "\">"
                + swatch("width:7px;height:7px;border:1px solid black;background:" + col + ";")
                + name + "</div>")
    return out


def legend_response(x, top):
    items = [
        swatch("width:22px;height:6px;border:1px solid black;background:" + C_CONC_ACT + ";") + SCEN[0],
        swatch("width:22px;height:6px;border:1px solid black;background:" + C_CONC_HYP + ";") + SCEN[1],
        swatch("width:24px;height:0;border-top:2px solid " + C_NET_ACT + ";") + NET_NAMES[0],
        swatch("width:24px;height:2px;background:repeating-linear-gradient(90deg," + C_NET_HYP +
               " 0 7px,transparent 7px 11px);") + NET_NAMES[1],
    ]
    return ("<div style=\"position:absolute;left:" + str(x) + "px;top:" + str(top) + "px;"
            "display:flex;align-items:center;gap:7px;" + LEG_FONT + "\">"
            + "".join("<span style=\"display:inline-flex;align-items:center\">" + it + "</span>" for it in items)
            + "</div>")


def block(w, h, color):
    return Div(text="", width=w, height=h, margin=0, styles={"background-color": color})


def black(w, h):
    return block(w, h, "black")


def cell(title, fig, w, div_h=40, extra=""):
    d = Div(text=("<div style=\"position:relative;width:" + str(w) + "px;height:" + str(div_h) + "px\">"
                  "<div style=\"padding:8px 0 0 12px;font-family:'Liberation Serif';"
                  "font-size:24px;white-space:nowrap;color:black;line-height:1.15\">"
                  + title + "</div>" + extra + "</div>"),
            width=w, height=div_h, margin=0, styles={"overflow": "hidden", "background-color": "white"})
    return column(d, fig, spacing=0)


WA, WE, WA2, WE2 = 467, 473, 469, 451
INNER_W = WA + WE + 5 + WA2 + WE2
R1H, R2H, R3H, R4H = 249, 247, 247, 250
E_DIV, G_DIV = 70, 76
LAB1, LAB2 = 55, 35   # widths of the secondary-axis title strips (THU / MIY)

a1 = panel_daily([A1_HT, A1_VT, A1_DD, A1_PM, A1_CP, A1_EM], WA, R1H - 40, (76, 56, 25, 49))
e1 = panel_month(E1_ACT, E1_HYP, WE, R1H - E_DIV, (108, 59, 16, 52))
a2 = panel_daily([A2_HT, A2_VT, A2_DD, A2_PM, A2_CP, A2_EM], WA2, R1H - 40, (77, 57, 25, 49))
e2 = panel_month(E2_ACT, E2_HYP, WE2, R1H - E_DIV, (112, 29, 16, 52))

b1 = panel_profile([B1_HT, B1_VT, B1_DD, B1_PM, B1_CP, B1_EM], 6, [-6, -3, 0, 3, 6],
                   {-6: "-6", -3: "-3"}, WA, R2H - 40, (84, 45, 14, 57), "#FF0000", "11px")
f1 = panel_profile([F1_HT, F1_VT, F1_DD, F1_PM, F1_CP, F1_EM], 1.5, [-1.5, -1, -0.5, 0, 0.5, 1, 1.5],
                   {-1.5: "-1.5", -1: "-1", -0.5: "-0.5", 0: "0", 1: "1"},
                   WE, R2H - 40, (87, 50, 14, 57), "#FF7070", "9.5px")
b2 = panel_profile([B2_HT, B2_VT, B2_DD, B2_PM, B2_CP, B2_EM], 10, [-10, -5, 0, 5, 10],
                   {-10: "-10", -5: "-5"}, WA2, R2H - 40, (84, 51, 14, 57), "#FF0000", "11px")
f2 = panel_profile([F2_HT, F2_VT, F2_DD, F2_PM, F2_CP, F2_EM], 0.2, [-0.2, -0.1, 0, 0.1, 0.2],
                   {-0.2: "-0.2", -0.1: "-0.1", 0: "0"}, WE2, R2H - 40, (85, 30, 14, 57), "#FF7070", "11px")

c1 = panel_hourly([C1_HT, C1_VT, C1_DD, C1_PM, C1_CP, C1_EM], 10, [-10, -5, 0, 5, 10],
                  {-10: "-10", -5: "-5"}, WA, R3H - 40, (85, 41, 24, 51))
g1 = panel_response(G1_ACT, G1_HYP, G1_NETA, G1_NETH, 2, WE - LAB1, R3H - G_DIV,
                    (83, 27, 13, 53), "#FF6060", "10.5px")
g1l = net_label_fig(LAB1, R3H - G_DIV, (20, 13, 53))
c2 = panel_hourly([C2_HT, C2_VT, C2_DD, C2_PM, C2_CP, C2_EM], 20, [-20, -10, 0, 10, 20],
                  {-20: "-20", -10: "-10"}, WA2, R3H - 40, (85, 43, 24, 51))
g2 = panel_response(G2_ACT, G2_HYP, G2_NETA, G2_NETH, 2, WE2 - LAB2, R3H - G_DIV,
                    (83, 25, 13, 53), "#FF6060", "10.5px")
g2l = net_label_fig(LAB2, R3H - G_DIV, (20, 13, 53))

d1 = panel_hourly([D1_HT, D1_VT, D1_DD, D1_PM, D1_CP, D1_EM], 4, [-4, -2, 0, 2, 4],
                  {-4: "-4", -2: "-2"}, WA, R4H - 40, (83, 41, 26, 50))
h1 = panel_response(H1_ACT, H1_HYP, H1_NETA, H1_NETH, 1, WE - LAB1, R4H - G_DIV,
                    (86, 20, 13, 53), "#FF0000", "10.5px")
h1l = net_label_fig(LAB1, R4H - G_DIV, (20, 13, 53))
d2 = panel_hourly([D2_HT, D2_VT, D2_DD, D2_PM, D2_CP, D2_EM], 4, [-4, -2, 0, 2, 4],
                  {-4: "-4", -2: "-2"}, WA2, R4H - 40, (82, 43, 26, 50))
h2 = panel_response(H2_ACT, H2_HYP, H2_NETA, H2_NETH, 1, WE2 - LAB2, R4H - G_DIV,
                    (85, 21, 13, 53), "#FF0000", "10.5px")
h2l = net_label_fig(LAB2, R4H - G_DIV, (20, 13, 53))

legend_items = "".join(
    "<span style=\"display:inline-flex;align-items:center;margin:0 19px\">"
    "<span style=\"display:inline-block;width:11px;height:11px;border:2px solid black;"
    "background:" + col + ";margin-right:19px\"></span>" + name + "</span>"
    for name, col in zip(COMPONENTS, [C_HT, C_VT, C_DD, C_PM, C_CP, C_EM]))
legend_div = Div(text=("<div style=\"display:flex;justify-content:center;align-items:center;"
                       "box-sizing:border-box;height:80px;padding-top:20px;padding-left:12px;width:"
                       + str(INNER_W) + "px;"
                       "font-family:'Liberation Serif';font-size:30px;color:black;white-space:nowrap\">"
                       + legend_items + "</div>"),
                 width=INNER_W, height=80, margin=0,
                 styles={"overflow": "hidden", "background-color": "white"})


def header(txt, w):
    return Div(text=("<div style=\"display:flex;justify-content:center;align-items:center;height:39px;"
                     "width:" + str(w) + "px;font-family:'Liberation Serif';font-size:31px;color:black\">"
                     + txt + "</div>"),
               width=w, height=39, margin=0, styles={"overflow": "hidden", "background-color": "white"})


header_row = row(header("THU", 941), black(2, 39), header("MIY", INNER_W - 943), spacing=0)

row1 = row(cell("(a-1) Contributions in the PBL (D. avg.)", a1, WA),
           cell("(e-1) Contributions in the PBL (M. avg.)", e1, WE, E_DIV, legend_month(135, 300, 59)),
           black(5, R1H),
           cell("(a-2) Contributions in the PBL (D. avg.)", a2, WA2),
           cell("(e-2) Contributions in the PBL (M. avg.)", e2, WE2, E_DIV, legend_month(139, 293, 59)),
           spacing=0)
row2 = row(cell("(b-1) Vertical profile (M. avg.)", b1, WA),
           cell("(f-1) Response in vertical profile(HYP-ACT)", f1, WE), black(5, R2H),
           cell("(b-2) Vertical profile (M. avg.)", b2, WA2),
           cell("(f-2) Response in vertical profile(HYP-ACT)", f2, WE2), spacing=0)
row3 = row(cell("(c-1) Diurnal variation in surface (M. avg.)", c1, WA),
           cell("(g-1) Response in surface diurnal variation", row(g1, g1l, spacing=0), WE, G_DIV,
                legend_response(63, 64)),
           black(5, R3H),
           cell("(c-2) Diurnal variation in surface (M. avg.)", c2, WA2),
           cell("(g-2) Response in surface diurnal variation", row(g2, g2l, spacing=0), WE2, G_DIV,
                legend_response(62, 64)),
           spacing=0)
row4 = row(cell("(d-1) Diurnal variation in Layer 7 (M. avg.)", d1, WA),
           cell("(h-l) Response in Layer 7 diurnal variation", row(h1, h1l, spacing=0), WE, G_DIV,
                legend_response(63, 64)),
           black(5, R4H),
           cell("(d-2) Diurnal variation in Layer 7 (M. avg.)", d2, WA2),
           cell("(h-2) Response in Layer 7 diurnal variation", row(h2, h2l, spacing=0), WE2, G_DIV,
                legend_response(62, 64)),
           spacing=0)

inner = column(legend_div, black(INNER_W, 5), header_row, black(INNER_W, 5),
               row1, black(INNER_W, 5), row2, black(INNER_W, 5), row3, black(INNER_W, 5), row4,
               spacing=0)
inner_h = 80 + 5 + 39 + 5 + R1H + 5 + R2H + 5 + R3H + 5 + R4H
boxed = column(black(INNER_W + 5, 5), row(black(5, inner_h), inner, spacing=0), spacing=0)
page = column(block(INNER_W + 13, 8, "white"),
              row(block(8, inner_h + 5, "white"), boxed, spacing=0), spacing=0)

open("out.html", "w").write(file_html(page, INLINE, title="SO4 process analysis"))
